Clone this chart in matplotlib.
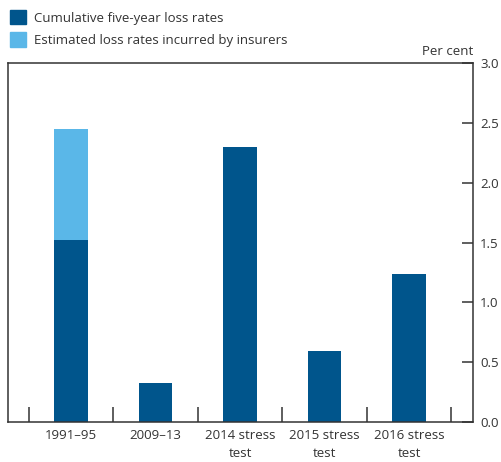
import matplotlib.pyplot as plt
from matplotlib.patches import Patch

categories = ['1991–95', '2009–13', '2014 stress\ntest', '2015 stress\ntest', '2016 stress\ntest']
cumulative = [1.52, 0.33, 2.30, 0.59, 1.24]
insurers = [0.93, 0, 0, 0, 0]

dark = '#00558c'
light = '#5ab7e8'

plt.rcParams['font.family'] = ['Open Sans', 'DejaVu Sans']

fig = plt.figure(figsize=(5.02, 4.62), dpi=100)
ax = fig.add_axes([8 / 502, 40 / 462, 465 / 502, 359 / 462])

x = list(range(len(categories)))
ax.bar(x, cumulative, width=0.40, color=dark)
ax.bar(x, insurers, width=0.40, bottom=cumulative, color=light)

ax.set_ylim(0, 3.0)
ax.set_xlim(-0.743, 4.755)
ax.set_yticks([0, 0.5, 1.0, 1.5, 2.0, 2.5, 3.0])
ax.set_yticklabels(['0.0', '0.5', '1.0', '1.5', '2.0', '2.5', '3.0'])
ax.yaxis.tick_right()
ax.tick_params(axis='y', direction='in', length=8, width=1.1, pad=5,
               labelsize=9.5, colors='#333333')

# category labels centred, separator ticks between them
ax.set_xticks(x)
ax.set_xticklabels(categories, fontsize=9.5, color='#333333', linespacing=1.55)
ax.tick_params(axis='x', which='major', length=0, pad=5)
ax.set_xticks([i - 0.5 for i in range(len(categories) + 1)], minor=True)
ax.tick_params(axis='x', which='minor', direction='in', length=11, width=1.1, colors='#333333')

for s in ax.spines.values():
    s.set_linewidth(1.1)
    s.set_color('#333333')

ax.text(1.0, 1.015, 'Per cent', transform=ax.transAxes, ha='right', va='bottom',
        fontsize=9.5, color='#333333')

handles = [Patch(color=dark, label='Cumulative five-year loss rates'),
           Patch(color=light, label='Estimated loss rates incurred by insurers')]
fig.legend(handles=handles, loc='upper left', bbox_to_anchor=(0.0, 1.0),
           frameon=False, fontsize=9.5, handlelength=1.2, handleheight=1.3,
           handletextpad=0.6, labelspacing=0.6, borderaxespad=0.35,
           labelcolor='#333333')

fig.savefig('out.png', dpi=100)
